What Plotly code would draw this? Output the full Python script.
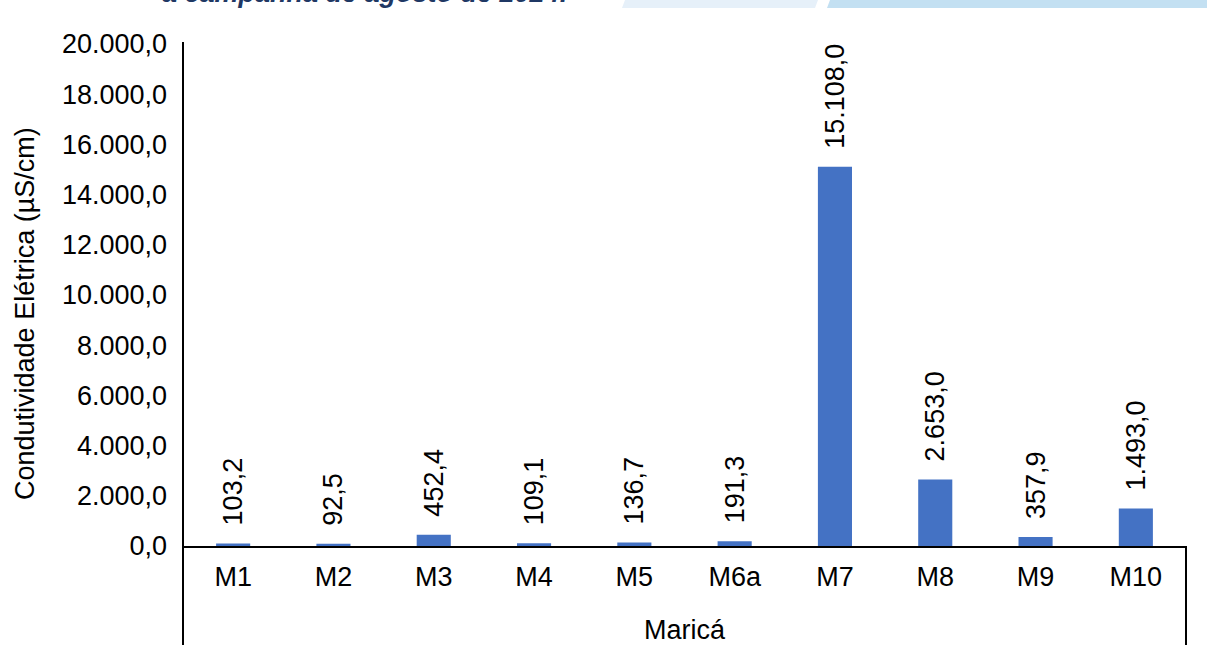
import plotly.graph_objects as go

categories = ["M1", "M2", "M3", "M4", "M5", "M6a", "M7", "M8", "M9", "M10"]
conductivity = [103.2, 92.5, 452.4, 109.1, 136.7, 191.3, 15108.0, 2653.0, 357.9, 1493.0]
y_ticks = [0, 2000, 4000, 6000, 8000, 10000, 12000, 14000, 16000, 18000, 20000]

W, H = 1207, 652
L, R, T, B = 183, 21, 44, 106
pw, ph = W - L - R, H - T - B

def px_x(x):
    return (x - L) / pw

def px_y(y):
    return (H - B - y) / ph

FONT = "Arial, 'Liberation Sans', sans-serif"
FS = 27

fig = go.Figure()
fig.add_trace(go.Bar(
    x=categories,
    y=conductivity,
    marker=dict(color="#4472C4", line=dict(width=0)),
    width=0.34,
    texttemplate="\u00a0\u00a0%{y:,.1f}",
    textposition="outside",
    textangle=-90,
    constraintext="none",
    cliponaxis=False,
    textfont=dict(family=FONT, size=FS, color="#000000"),
))

shapes = [
    # extended left axis line and right box line (category box)
    dict(type="line", xref="paper", yref="paper", x0=0, x1=0, y0=px_y(645), y1=px_y(42),
         line=dict(color="#000000", width=2)),
    dict(type="line", xref="paper", yref="paper", x0=1, x1=1, y0=px_y(645), y1=0,
         line=dict(color="#000000", width=2)),
    # top decorative banner
    dict(type="path", xref="paper", yref="paper",
         path=f"M {px_x(625)} {px_y(0)} L {px_x(818)} {px_y(0)} L {px_x(815)} {px_y(8)} L {px_x(622)} {px_y(8)} Z",
         fillcolor="#E6F0F9", line=dict(width=0), layer="below"),
    dict(type="path", xref="paper", yref="paper",
         path=f"M {px_x(830)} {px_y(0)} L {px_x(1207)} {px_y(0)} L {px_x(1207)} {px_y(8)} L {px_x(827)} {px_y(8)} Z",
         fillcolor="#C3E0F2", line=dict(width=0), layer="below"),
]

annotations = [
    dict(text="Maricá", xref="paper", yref="paper", x=0.5, y=px_y(630),
         showarrow=False, font=dict(family=FONT, size=FS, color="#000000"),
         xanchor="center", yanchor="middle"),
    dict(text="<b><i>a campanha de agosto de 2024.</i></b>", xref="paper", yref="paper",
         x=px_x(160), y=px_y(-7), showarrow=False,
         font=dict(family=FONT, size=FS, color="#1F3864"),
         xanchor="left", yanchor="middle"),
    dict(text="Condutividade Elétrica (µS/cm)", xref="paper", yref="paper",
         x=px_x(25), y=px_y(314), textangle=-90, showarrow=False,
         font=dict(family=FONT, size=FS, color="#000000"),
         xanchor="center", yanchor="middle"),
]

fig.update_layout(
    width=W, height=H,
    margin=dict(l=L, r=R, t=T, b=B, pad=0, autoexpand=False),
    paper_bgcolor="#FFFFFF", plot_bgcolor="#FFFFFF",
    separators=",.",
    showlegend=False,
    shapes=shapes,
    annotations=annotations,
    font=dict(family=FONT, size=FS, color="#000000"),
    xaxis=dict(
        type="category", range=[-0.5, 9.5], automargin=False,
        showline=True, linecolor="#000000", linewidth=2,
        showgrid=False, ticks="", ticklabelstandoff=6,
        tickfont=dict(family=FONT, size=FS, color="#000000"),
        zeroline=False,
    ),
    yaxis=dict(
        range=[0, 20000], tickvals=y_ticks, tickformat=",.1f", automargin=False,
        showline=False,
        showgrid=False, ticks="", ticklabelstandoff=15,
        tickfont=dict(family=FONT, size=FS, color="#000000"),
        zeroline=False,
    ),
)

fig.write_html(
    "out.html",
    config={"displayModeBar": False},
    post_script="document.body.style.margin='0';document.body.style.overflow='hidden';",
)
